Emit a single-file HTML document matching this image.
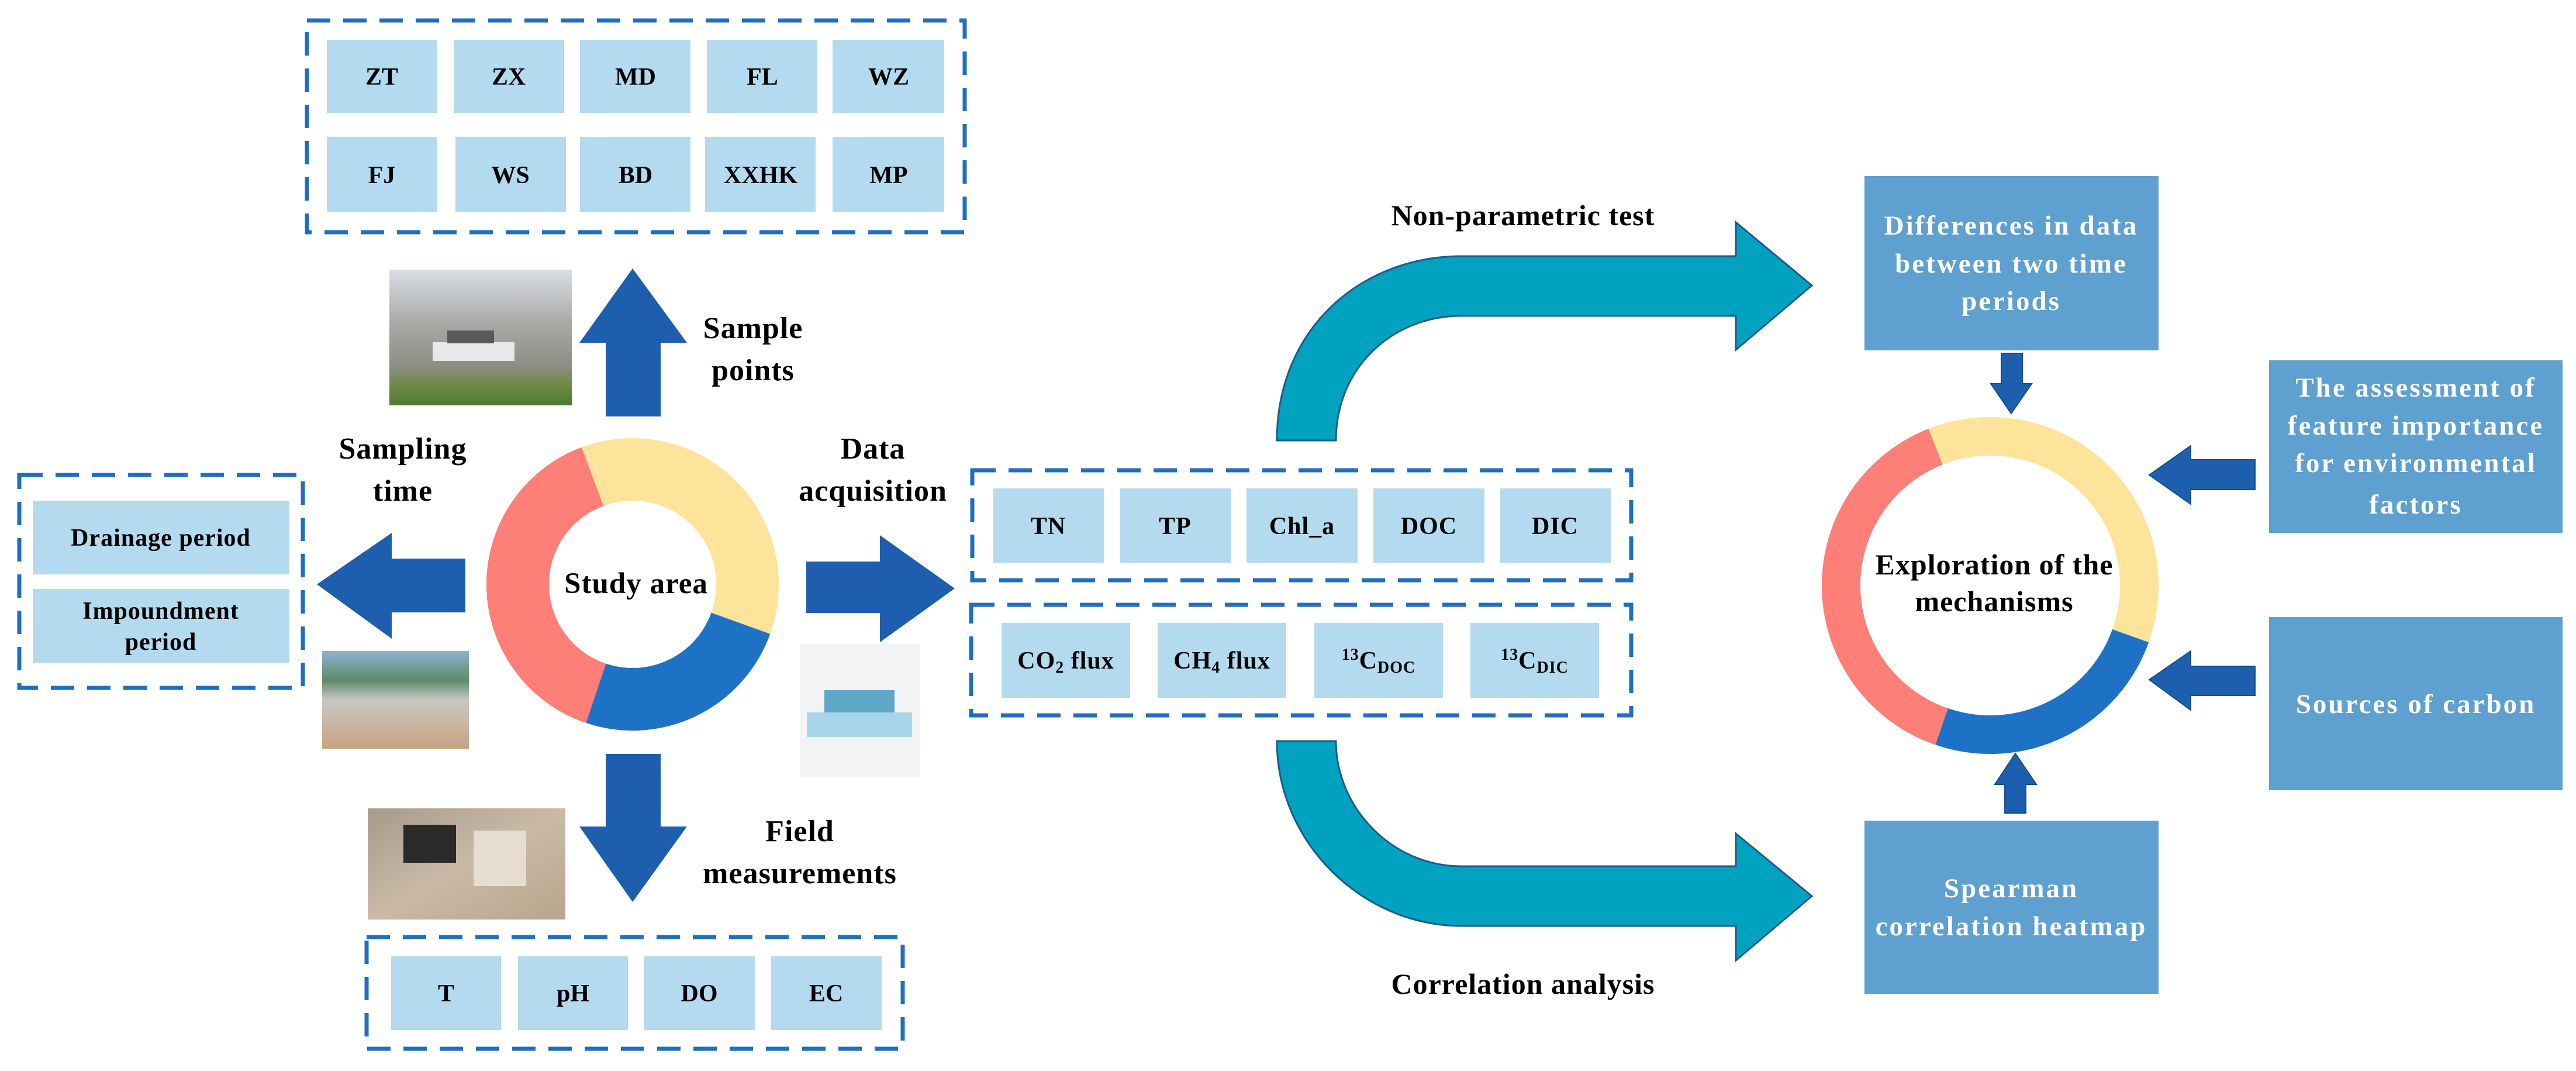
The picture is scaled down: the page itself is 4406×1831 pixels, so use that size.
<!DOCTYPE html>
<html><head><meta charset="utf-8"><style>
html,body{margin:0;padding:0;background:#fff;}
svg{display:block;}
text{font-family:"Liberation Serif",serif;font-weight:bold;}
</style></head><body>
<svg width="4406" height="1831" viewBox="0 0 4406 1831" xmlns="http://www.w3.org/2000/svg">
<defs>
<linearGradient id="boat" x1="0" y1="0" x2="0" y2="1"><stop offset="0" stop-color="#d9dde4"/><stop offset="0.4" stop-color="#a9a9a6"/><stop offset="0.7" stop-color="#8e8e86"/><stop offset="0.85" stop-color="#6f8a45"/><stop offset="1" stop-color="#4f7a2e"/></linearGradient>
<linearGradient id="dam" x1="0" y1="0" x2="0" y2="1"><stop offset="0" stop-color="#8fb3d0"/><stop offset="0.3" stop-color="#5f8a6a"/><stop offset="0.5" stop-color="#c8c8c4"/><stop offset="1" stop-color="#c7a47f"/></linearGradient>
<linearGradient id="field" x1="0" y1="0" x2="1" y2="1"><stop offset="0" stop-color="#a89a8c"/><stop offset="0.5" stop-color="#c9b9a6"/><stop offset="1" stop-color="#b8a58c"/></linearGradient>
</defs>

<!-- Top sample points box -->
<rect x="525" y="35" width="1125" height="362" fill="none" stroke="#1f6fc1" stroke-width="7" stroke-dasharray="40 22"/>
<g fill="#b3daee">
<rect x="559" y="68" width="189" height="125"/><rect x="776" y="68" width="189" height="125"/><rect x="992" y="68" width="189" height="125"/><rect x="1209" y="68" width="189" height="125"/><rect x="1424" y="68" width="191" height="125"/>
<rect x="559" y="234" width="189" height="128"/><rect x="779" y="234" width="189" height="128"/><rect x="992" y="234" width="189" height="128"/><rect x="1206" y="234" width="189" height="128"/><rect x="1424" y="234" width="191" height="128"/>
</g>
<g font-size="42" text-anchor="middle" fill="#000">
<text x="653" y="145">ZT</text><text x="870" y="145">ZX</text><text x="1087" y="145">MD</text><text x="1304" y="145">FL</text><text x="1520" y="145">WZ</text>
<text x="653" y="313">FJ</text><text x="873" y="313">WS</text><text x="1087" y="313">BD</text><text x="1301" y="313">XXHK</text><text x="1520" y="313">MP</text>
</g>

<!-- photos -->
<rect x="666" y="461" width="312" height="232" fill="url(#boat)"/>
<rect x="740" y="585" width="140" height="32" fill="#e8e8e8"/><rect x="765" y="565" width="80" height="22" fill="#5a5a5a"/>
<rect x="551" y="1113" width="251" height="167" fill="url(#dam)"/>
<rect x="629" y="1382" width="338" height="190" fill="url(#field)"/>
<rect x="690" y="1410" width="90" height="65" fill="#2a2a2a"/><rect x="810" y="1420" width="90" height="95" fill="#e6ddd0"/>
<rect x="1368" y="1101" width="206" height="228" fill="#f1f3f5"/>
<rect x="1380" y="1218" width="180" height="42" fill="#a9d5ea"/><rect x="1410" y="1180" width="120" height="38" fill="#5fa8c8"/>

<!-- arrows around study area -->
<g fill="#1d5fae">
<polygon points="1082,459 1175,586 1130,586 1130,712 1036,712 1036,586 991,586"/>
<polygon points="1082,1542 1175,1413 1130,1413 1130,1289 1036,1289 1036,1413 991,1413"/>
<polygon points="542,999 670,911 670,955 796,955 796,1047 670,1047 670,1092"/>
<polygon points="1633,1006 1505,915 1505,960 1379,960 1379,1048 1505,1048 1505,1098"/>
</g>

<!-- donut -->
<g fill="none" stroke-width="107">
<path d="M1013.5 814.8 A196.5 196.5 0 0 1 1266.9 1065.6" stroke="#fde49a"/>
<path d="M1266.9 1065.6 A196.5 196.5 0 0 1 1019.3 1185.2" stroke="#1e72c6"/>
<path d="M1019.3 1185.2 A196.5 196.5 0 0 1 1013.5 814.8" stroke="#fe7f77"/>
</g>
<text x="1088" y="1014" font-size="51" text-anchor="middle" letter-spacing="1">Study area</text>

<!-- labels -->
<g font-size="52" text-anchor="middle" letter-spacing="1">
<text x="1288" y="578">Sample</text><text x="1288" y="650">points</text>
<text x="689" y="784">Sampling</text><text x="689" y="856">time</text>
<text x="1493" y="784">Data</text><text x="1493" y="856">acquisition</text>
<text x="1368" y="1438">Field</text><text x="1368" y="1510">measurements</text>
</g>

<!-- left box -->
<rect x="33" y="812" width="485" height="364" fill="none" stroke="#1f6fc1" stroke-width="7" stroke-dasharray="40 22"/>
<rect x="56" y="856" width="439" height="126" fill="#b3daee"/>
<rect x="56" y="1007" width="439" height="126" fill="#b3daee"/>
<g font-size="42" text-anchor="middle" letter-spacing="1">
<text x="275" y="933">Drainage period</text>
<text x="275" y="1058">Impoundment</text><text x="275" y="1111">period</text>
</g>

<!-- bottom box -->
<rect x="627" y="1602" width="917" height="191" fill="none" stroke="#1f6fc1" stroke-width="7" stroke-dasharray="40 22"/>
<g fill="#b3daee">
<rect x="669" y="1635" width="188" height="126"/><rect x="886" y="1635" width="188" height="126"/><rect x="1101" y="1635" width="190" height="126"/><rect x="1319" y="1635" width="189" height="126"/>
</g>
<g font-size="42" text-anchor="middle">
<text x="763" y="1712">T</text><text x="980" y="1712">pH</text><text x="1196" y="1712">DO</text><text x="1413" y="1712">EC</text>
</g>

<!-- data boxes -->
<rect x="1663" y="804" width="1127" height="188" fill="none" stroke="#1f6fc1" stroke-width="7" stroke-dasharray="40 22"/>
<g fill="#b3daee">
<rect x="1699" y="835" width="189" height="127"/><rect x="1916" y="835" width="189" height="127"/><rect x="2132" y="835" width="190" height="127"/><rect x="2349" y="835" width="190" height="127"/><rect x="2566" y="835" width="189" height="127"/>
</g>
<g font-size="42" text-anchor="middle" letter-spacing="1">
<text x="1793" y="913">TN</text><text x="2010" y="913">TP</text><text x="2227" y="913">Chl_a</text><text x="2444" y="913">DOC</text><text x="2660" y="913">DIC</text>
</g>
<rect x="1661" y="1034" width="1129" height="189" fill="none" stroke="#1f6fc1" stroke-width="7" stroke-dasharray="40 22"/>
<g fill="#b3daee">
<rect x="1713" y="1065" width="220" height="128"/><rect x="1980" y="1065" width="220" height="128"/><rect x="2248" y="1065" width="220" height="128"/><rect x="2515" y="1065" width="220" height="128"/>
</g>
<g font-size="42" text-anchor="middle" letter-spacing="1">
<text x="1823" y="1143">CO<tspan font-size="28" dy="7">2</tspan><tspan dy="-7"> flux</tspan></text>
<text x="2090" y="1143">CH<tspan font-size="28" dy="7">4</tspan><tspan dy="-7"> flux</tspan></text>
<text x="2358" y="1143"><tspan font-size="28" dy="-15">13</tspan><tspan dy="15">C</tspan><tspan font-size="28" dy="7">DOC</tspan></text>
<text x="2625" y="1143"><tspan font-size="28" dy="-15">13</tspan><tspan dy="15">C</tspan><tspan font-size="28" dy="7">DIC</tspan></text>
</g>

<!-- curved teal arrows -->
<path d="M2184 753 C2184 560 2330 438 2500 438 L2969 438 L2969 380 L3099 488 L2969 598 L2969 540 L2500 540 C2380 540 2285 630 2285 753 Z" fill="#00a2bf" stroke="#1b5b8a" stroke-width="3"/>
<path d="M2184 1267 C2184 1440 2330 1583 2500 1583 L2969 1583 L2969 1642 L3099 1532 L2969 1425 L2969 1481 L2500 1481 C2380 1481 2285 1380 2285 1267 Z" fill="#00a2bf" stroke="#1b5b8a" stroke-width="3"/>
<g font-size="50" text-anchor="middle" letter-spacing="1">
<text x="2605" y="385">Non-parametric test</text>
<text x="2605" y="1699">Correlation analysis</text>
</g>

<!-- right boxes -->
<g fill="#5ea0cf">
<rect x="3189" y="301" width="503" height="298"/>
<rect x="3881" y="616" width="502" height="295"/>
<rect x="3881" y="1055" width="502" height="296"/>
<rect x="3189" y="1403" width="503" height="296"/>
</g>
<g font-size="47" text-anchor="middle" fill="#fff" letter-spacing="3">
<text x="3440" y="401">Differences in data</text><text x="3440" y="466">between two time</text><text x="3440" y="530">periods</text>
<text x="4132" y="678">The assessment of</text><text x="4132" y="743">feature importance</text><text x="4132" y="807">for environmental</text><text x="4132" y="878">factors</text>
<text x="4132" y="1219">Sources of carbon</text>
<text x="3440" y="1534">Spearman</text><text x="3440" y="1599">correlation heatmap</text>
</g>

<!-- small arrows -->
<g fill="#1d5fae" stroke="#174d8f" stroke-width="2">
<polygon points="3423,604 3459,604 3459,656 3475,656 3440,707 3405,656 3423,656"/>
<polygon points="3447,1288 3483,1341 3465,1341 3465,1390 3429,1390 3429,1341 3412,1341"/>
<polygon points="3676,812 3747,762 3747,786 3857,786 3857,837 3747,837 3747,862"/>
<polygon points="3676,1162 3747,1113 3747,1139 3857,1139 3857,1189 3747,1189 3747,1214"/>
</g>

<!-- ring -->
<g fill="none" stroke-width="66">
<path d="M3310.5 763.7 A255 255 0 0 1 3644.1 1087" stroke="#fde49a"/>
<path d="M3644.1 1087 A255 255 0 0 1 3321 1242.1" stroke="#1e72c6"/>
<path d="M3321 1242.1 A255 255 0 0 1 3310.5 763.7" stroke="#fe7f77"/>
</g>
<g font-size="50" text-anchor="middle" letter-spacing="1">
<text x="3411" y="982">Exploration of the</text><text x="3411" y="1045">mechanisms</text>
</g>
</svg>
</body></html>
